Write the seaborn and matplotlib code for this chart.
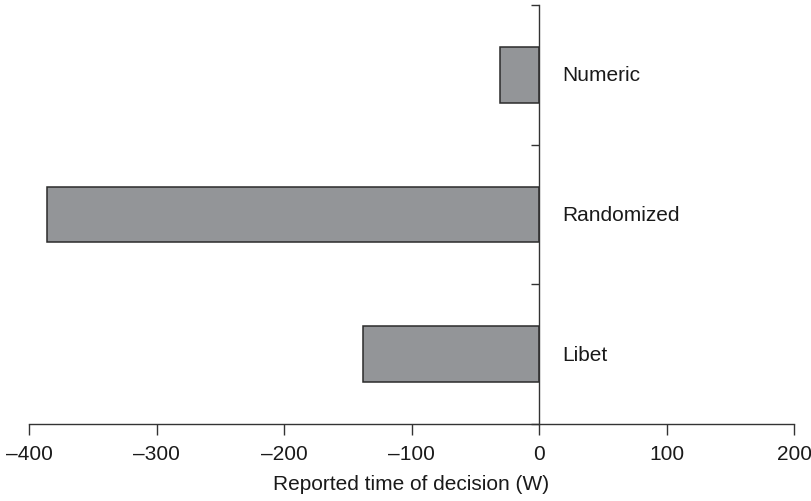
import matplotlib
matplotlib.use("Agg")
import matplotlib.pyplot as plt
import seaborn as sns
import pandas as pd

# Reported decision times (W) per task condition
conditions = ["Numeric", "Randomized", "Libet"]
reported_w = [-30.5, -385.5, -138.0]

# Axis ticks and their printed labels
x_ticks = [-400, -300, -200, -100, 0, 100, 200]
x_tick_labels = ["\u2013400", "\u2013300", "\u2013200", "\u2013100", "0", "100", "200"]
x_label = "Reported time of decision (W)"

sns.set_theme(style="white")
plt.rcParams["font.family"] = ["Liberation Sans", "DejaVu Sans"]

df = pd.DataFrame({"condition": conditions, "w": reported_w})

fig = plt.figure(figsize=(8.12, 5.02), dpi=100)
ax = fig.add_axes([29 / 812, 1 - 425 / 502, (794 - 29) / 812, (425 - 6) / 502])

sns.barplot(
    data=df, x="w", y="condition", order=conditions, orient="h",
    width=0.4, color="#939598", saturation=1,
    edgecolor="#2b2b2b", linewidth=1.1, ax=ax,
)

ax.set_xlim(-400, 200)
ax.set_ylim(2.5, -0.5)

# y spine sits at zero; ticks mark the category boundaries
for side in ("top", "right"):
    ax.spines[side].set_visible(False)
ax.spines["left"].set_position(("data", 0))
for side in ("left", "bottom"):
    ax.spines[side].set_color("#333333")
    ax.spines[side].set_linewidth(1.0)

ax.set_yticks([-0.5, 0.5, 1.5, 2.5])
ax.set_yticklabels([])
ax.tick_params(axis="y", direction="out", length=6, width=1.0, color="#333333", left=True)

ax.set_xticks(x_ticks)
ax.set_xticklabels(x_tick_labels)
ax.tick_params(axis="x", direction="out", length=8, width=1.0, color="#333333",
               bottom=True, labelsize=15, pad=6.5, labelcolor="#1a1a1a")

ax.set_ylabel("")
ax.set_xlabel(x_label, fontsize=15, color="#1a1a1a", labelpad=8)

# Category names to the right of the zero line
for i, name in enumerate(conditions):
    ax.annotate(name, xy=(0, i), xytext=(17, 0), textcoords="offset points",
                ha="left", va="center", fontsize=15, color="#1a1a1a")

ax.grid(False)
fig.savefig("out.png", dpi=100)
